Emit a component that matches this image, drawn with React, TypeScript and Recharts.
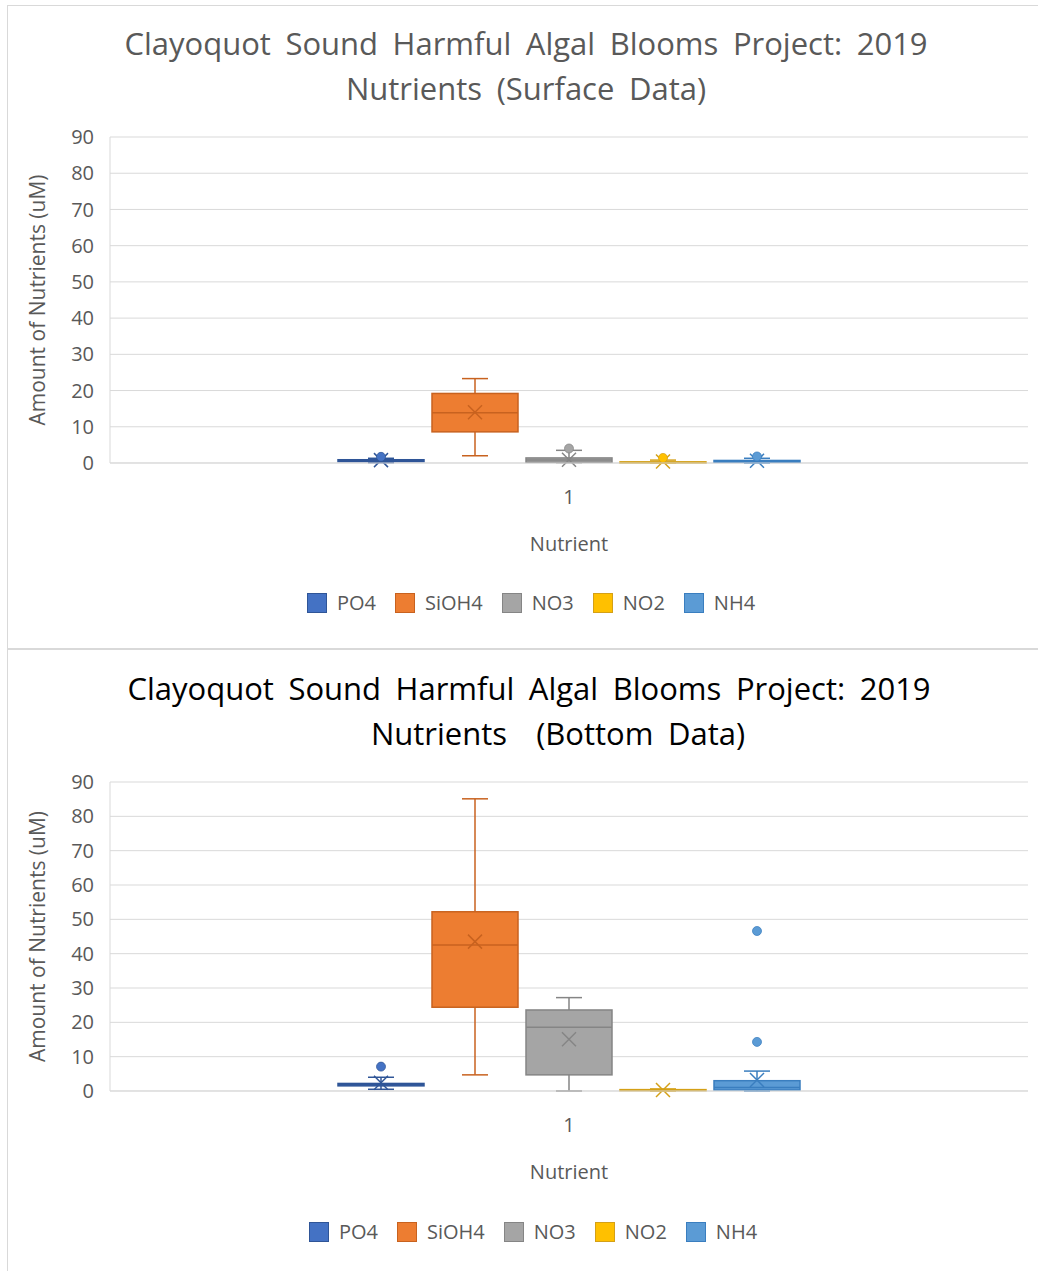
import { ComposedChart, Bar, XAxis, YAxis, CartesianGrid, Legend } from 'recharts';

const nutrients = ['PO4', 'SiOH4', 'NO3', 'NO2', 'NH4'];
const fillColors = ['#4472C4', '#ED7D31', '#A5A5A5', '#FFC000', '#5B9BD5'];
const lineColors = ['#2F5597', '#C8621F', '#858585', '#D4A017', '#3A7EBF'];
const yTicks = [0, 10, 20, 30, 40, 50, 60, 70, 80, 90];

// surface samples (uM)
const surfaceMin = [0.1, 2.0, 0.1, 0.0, 0.0];
const surfaceQ1 = [0.4, 8.6, 0.2, 0.1, 0.2];
const surfaceMedian = [0.7, 13.9, 0.8, 0.2, 0.4];
const surfaceQ3 = [0.9, 19.2, 1.4, 0.3, 0.7];
const surfaceMax = [1.3, 23.3, 3.5, 0.8, 1.3];
const surfaceMean = [0.8, 14.0, 0.9, 0.4, 0.6];
const surfaceOutliers = [[1.7], [], [4.0], [1.4], [1.8]];

// bottom samples (uM)
const bottomMin = [0.5, 4.7, 0.0, 0.0, 0.0];
const bottomQ1 = [1.5, 24.4, 4.7, 0.1, 0.3];
const bottomMedian = [1.9, 42.5, 18.6, 0.2, 1.0];
const bottomQ3 = [2.2, 52.2, 23.6, 0.4, 3.0];
const bottomMax = [4.0, 85.1, 27.2, 0.6, 5.8];
const bottomMean = [2.4, 43.5, 15.1, 0.3, 3.2];
const bottomOutliers = [[7.1], [], [], [], [14.3, 46.6]];

type Stats = { min: number; q1: number; median: number; q3: number; max: number; mean: number; outliers: number[] };

function buildStats(mins, q1s, medians, q3s, maxs, means, outliers): Stats[] {
  return nutrients.map((_, i) => ({
    min: mins[i], q1: q1s[i], median: medians[i], q3: q3s[i], max: maxs[i], mean: means[i], outliers: outliers[i],
  }));
}

const surfaceStats = buildStats(surfaceMin, surfaceQ1, surfaceMedian, surfaceQ3, surfaceMax, surfaceMean, surfaceOutliers);
const bottomStats = buildStats(bottomMin, bottomQ1, bottomMedian, bottomQ3, bottomMax, bottomMean, bottomOutliers);

const lowOf = (s: Stats) => Math.min(s.min, ...s.outliers);
const highOf = (s: Stats) => Math.max(s.max, ...s.outliers);

function buildRow(stats: Stats[]) {
  const row: any = { category: '1' };
  nutrients.forEach((n, i) => {
    row[n] = [lowOf(stats[i]), highOf(stats[i])];
  });
  return [row];
}

const FONT = "'Open Sans', sans-serif";
const GRID = '#D9D9D9';
const TEXT = '#595959';

function BoxShape(props: any) {
  const { x, y, width, height, s, fill, stroke } = props;
  const top = Math.min(y, y + height);
  const bottom = Math.max(y, y + height);
  const lo = lowOf(s);
  const hi = highOf(s);
  // the bar spans lo..hi, so map values linearly inside it
  const py = (v: number) => bottom - ((v - lo) / (hi - lo)) * (bottom - top);
  const cx = x + width / 2;
  const cap = 13;
  const m = 7;
  const my = py(s.mean);
  return (
    <g>
      <line x1={cx} x2={cx} y1={py(s.max)} y2={py(s.q3)} stroke={stroke} strokeWidth={1.5} />
      <line x1={cx} x2={cx} y1={py(s.q1)} y2={py(s.min)} stroke={stroke} strokeWidth={1.5} />
      <line x1={cx - cap} x2={cx + cap} y1={py(s.max)} y2={py(s.max)} stroke={stroke} strokeWidth={1.5} />
      <line x1={cx - cap} x2={cx + cap} y1={py(s.min)} y2={py(s.min)} stroke={stroke} strokeWidth={1.5} />
      <rect x={x} y={py(s.q3)} width={width} height={Math.max(py(s.q1) - py(s.q3), 1)} fill={fill} stroke={stroke} strokeWidth={1.5} />
      <line x1={x} x2={x + width} y1={py(s.median)} y2={py(s.median)} stroke={stroke} strokeWidth={1.5} />
      <line x1={cx - m} x2={cx + m} y1={my - m} y2={my + m} stroke={stroke} strokeWidth={1.5} />
      <line x1={cx - m} x2={cx + m} y1={my + m} y2={my - m} stroke={stroke} strokeWidth={1.5} />
      {s.outliers.map((o: number, k: number) => (
        <circle key={k} cx={cx} cy={py(o)} r={4.5} fill={fill} stroke={stroke} strokeWidth={0.75} />
      ))}
    </g>
  );
}

const renderLegend = () => (
  <div style={{ display: 'flex', justifyContent: 'center', alignItems: 'center', fontFamily: FONT, fontSize: 20, color: TEXT }}>
    {nutrients.map((n, i) => (
      <span key={n} style={{ display: 'flex', alignItems: 'center', marginRight: i < nutrients.length - 1 ? 19 : 0 }}>
        <span style={{ width: 20, height: 20, boxSizing: 'border-box', background: fillColors[i], border: `1px solid ${lineColors[i]}`, marginRight: 10 }} />
        {n}
      </span>
    ))}
  </div>
);

function BoxChart({ stats, height, top, bottomMargin, legendTop, legendLeft }: any) {
  const data = buildRow(stats);
  return (
    <ComposedChart
      width={1030}
      height={height}
      data={data}
      margin={{ top, right: 10, bottom: bottomMargin, left: 8 }}
      barSize={86}
      barGap={8}
      style={{ fontFamily: FONT }}
    >
      <CartesianGrid vertical={false} stroke={GRID} />
      <XAxis
        dataKey="category"
        tick={{ fill: TEXT, fontSize: 20 }}
        axisLine={{ stroke: GRID }}
        tickLine={false}
        tickSize={0}
        tickMargin={27}
        height={100}
        label={{
          content: ({ viewBox }: any) => (
            <text x={viewBox.x + viewBox.width / 2} y={viewBox.y + 80} textAnchor="middle" dominantBaseline="central" fill={TEXT} fontSize={20}>
              Nutrient
            </text>
          ),
        }}
      />
      <YAxis
        type="number"
        domain={[0, 90]}
        ticks={yTicks}
        interval={0}
        width={94}
        tick={{ fill: TEXT, fontSize: 20 }}
        axisLine={{ stroke: GRID }}
        tickLine={false}
        tickSize={0}
        tickMargin={16}
        label={{
          content: ({ viewBox }: any) => {
            const lx = viewBox.x + 21;
            const ly = viewBox.y + viewBox.height / 2;
            return (
              <text x={lx} y={ly} transform={`rotate(-90 ${lx} ${ly})`} textAnchor="middle" dominantBaseline="central" fill={TEXT} fontSize={21}>
                Amount of Nutrients (uM)
              </text>
            );
          },
        }}
      />
      <Legend
        verticalAlign="middle"
        content={renderLegend}
        wrapperStyle={{ top: legendTop, left: legendLeft, width: 1030 }}
      />
      {nutrients.map((n, i) => (
        <Bar
          key={n}
          dataKey={n}
          fill={fillColors[i]}
          isAnimationActive={false}
          shape={(p: any) => <BoxShape {...p} s={stats[i]} fill={fillColors[i]} stroke={lineColors[i]} />}
        />
      ))}
    </ComposedChart>
  );
}

const titleStyle = (color: string, padLeft: number, topPx: number): any => ({
  position: 'absolute',
  left: 0,
  top: topPx,
  width: 1030,
  paddingLeft: padLeft,
  boxSizing: 'border-box',
  textAlign: 'center',
  fontFamily: FONT,
  fontSize: 31,
  wordSpacing: 6.5,
  lineHeight: '45px',
  color,
  whiteSpace: 'pre',
  zIndex: 2,
});

export default function App() {
  return (
    <div style={{ position: 'absolute', left: 0, top: 0, width: 1038, height: 1271, background: '#fff', overflow: 'hidden' }}>
      <div style={{ position: 'absolute', left: 7, top: 5, width: 1031, height: 644, boxSizing: 'border-box', borderTop: `1px solid ${GRID}`, borderLeft: `1px solid ${GRID}`, borderBottom: `1px solid ${GRID}` }}>
        <div style={titleStyle(TEXT, 6, 15)}>Clayoquot Sound Harmful Algal Blooms Project: 2019</div>
        <div style={titleStyle(TEXT, 6, 60)}>Nutrients (Surface Data)</div>
        <BoxChart stats={surfaceStats} height={642} top={131} bottomMargin={85} legendTop={583} legendLeft={8} />
      </div>
      <div style={{ position: 'absolute', left: 7, top: 649, width: 1031, height: 622, boxSizing: 'border-box', borderTop: `1px solid ${GRID}`, borderLeft: `1px solid ${GRID}` }}>
        <div style={titleStyle('#000', 12, 16)}>Clayoquot Sound Harmful Algal Blooms Project: 2019</div>
        <div style={titleStyle('#000', 70, 61)}>Nutrients  (Bottom Data)</div>
        <BoxChart stats={bottomStats} height={621} top={132} bottomMargin={80} legendTop={568} legendLeft={10} />
      </div>
    </div>
  );
}
